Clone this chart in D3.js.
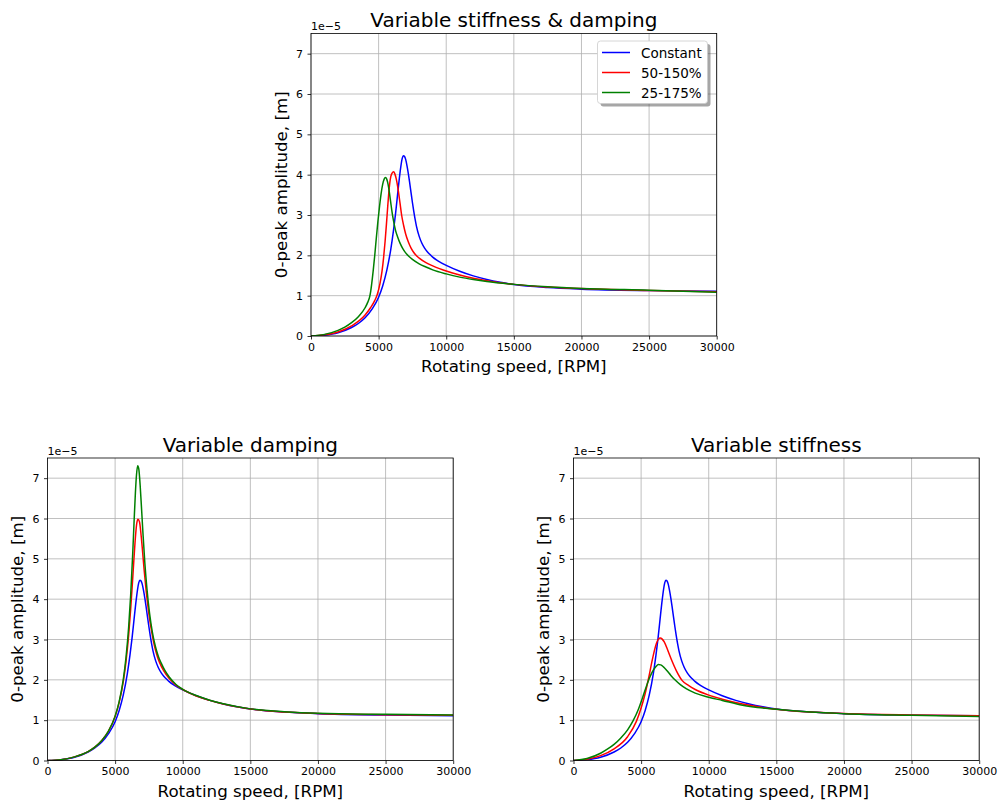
<!DOCTYPE html>
<html><head><meta charset="utf-8">
<script src="https://cdn.jsdelivr.net/npm/d3@7"></script>
<style>body{margin:0;background:#fff}svg{display:block}text{font-family:"DejaVu Sans",sans-serif;fill:#000}</style>
</head><body>
<svg id="chart" width="1001" height="803"></svg>
<script>
// ---- tick labels / categories ----
const xTicks = [0, 5000, 10000, 15000, 20000, 25000, 30000];
const yTicks = [0, 1, 2, 3, 4, 5, 6, 7];
const seriesNames = ["Constant", "50-150%", "25-175%"];
const seriesColors = ["#0000ff", "#ff0000", "#008000"];
const titles = ["Variable stiffness & damping", "Variable damping", "Variable stiffness"];
const xLabel = "Rotating speed, [RPM]";
const yLabel = "0-peak amplitude, [m]";
const offsetLabel = "1e\u22125";

// ---- data (amplitude in units of 1e-5 m) ----
// Constant (same in all three panels)
const rpmConst = [0,1000,2000,3000,3500,4000,4500,5000,5300,5600,5900,6100,6250,6400,6530,6650,6750,6830,6920,7000,7100,7200,7300,7400,7500,7600,7700,7800,8000,8200,8400,8600,8800,9000,9300,9600,10000,11000,12000,13000,14000,15000,17500,20000,25000,30000];
const ampConst = [0,0.02,0.08,0.21,0.31,0.45,0.66,0.96,1.24,1.62,2.15,2.62,3.03,3.5,3.9,4.22,4.41,4.47,4.45,4.38,4.22,4.02,3.79,3.55,3.31,3.09,2.89,2.72,2.47,2.3,2.18,2.09,2.02,1.955,1.88,1.82,1.75,1.605,1.49,1.4,1.33,1.275,1.2,1.16,1.125,1.11];

// Top panel: variable stiffness & damping
const rpmSD50 = [0,1000,2000,3000,4000,4400,4700,4900,5100,5250,5370,5480,5580,5660,5740,5820,5900,6000,6100,6200,6300,6400,6500,6600,6700,6850,7000,7200,7400,7600,7800,8000,8500,9000,9500,10000,11000,12000,13000,15000,17500,20000,25000,30000];
const ampSD50 = [0,0.03,0.1,0.25,0.52,0.7,0.87,1.03,1.3,1.6,1.95,2.35,2.78,3.15,3.5,3.78,3.95,4.04,4.07,4.02,3.9,3.72,3.5,3.25,3.0,2.74,2.53,2.33,2.18,2.07,1.99,1.93,1.82,1.74,1.67,1.61,1.51,1.43,1.37,1.28,1.215,1.175,1.13,1.10];
const rpmSD25 = [0,1000,2000,2500,3000,3500,4000,4200,4350,4420,4480,4600,4720,4830,4950,5070,5180,5300,5410,5510,5600,5700,5800,5900,6000,6100,6250,6400,6600,6800,7000,7250,7500,8000,8500,9000,10000,11000,12000,13000,15000,17500,20000,25000,30000];
const ampSD25 = [0,0.04,0.14,0.22,0.33,0.48,0.7,0.84,0.99,1.12,1.27,1.62,2.02,2.43,2.85,3.22,3.52,3.76,3.89,3.93,3.89,3.76,3.55,3.3,3.06,2.86,2.62,2.46,2.29,2.16,2.06,1.97,1.9,1.79,1.71,1.64,1.54,1.46,1.4,1.35,1.28,1.22,1.18,1.135,1.085];

// Bottom-left: variable damping
const rpmD50 = [0,1000,2000,3000,3500,4000,4500,5000,5300,5600,5800,6000,6150,6300,6400,6500,6600,6690,6800,6900,7000,7150,7300,7500,7700,7850,8000,8150,8300,8600,9000,9500,10000,11000,12000,13000,15000,17500,20000,25000,30000];
const ampD50 = [0,0.02,0.09,0.22,0.33,0.49,0.72,1.09,1.44,1.95,2.44,3.1,3.75,4.51,5.04,5.53,5.88,5.98,5.92,5.66,5.3,4.71,4.19,3.63,3.2,2.93,2.72,2.55,2.42,2.22,2.03,1.87,1.76,1.6,1.49,1.4,1.275,1.2,1.165,1.135,1.12];
const rpmD25 = [0,1000,2000,3000,3500,4000,4500,5000,5300,5600,5800,6000,6150,6300,6400,6500,6580,6670,6750,6850,6950,7050,7200,7350,7550,7750,7900,8050,8200,8400,8700,9000,9500,10000,11000,12000,13000,15000,17500,20000,25000,30000];
const ampD25 = [0,0.02,0.09,0.22,0.33,0.49,0.72,1.1,1.46,2.0,2.54,3.3,4.1,5.12,5.9,6.64,7.08,7.31,7.23,6.83,6.27,5.68,4.89,4.27,3.64,3.19,2.94,2.74,2.58,2.42,2.22,2.07,1.885,1.765,1.61,1.495,1.405,1.28,1.21,1.17,1.145,1.13];

// Bottom-right: variable stiffness
const rpmS50 = [0,1000,2000,3000,4000,4650,5000,5300,5540,5830,6000,6130,6280,6420,6560,6710,6950,7230,7600,8040,8500,9000,10000,11000,12500,15000,17500,20000,25000,30000];
const ampS50 = [0,0.03,0.12,0.29,0.59,0.97,1.3,1.66,2.02,2.5,2.75,2.9,3.01,3.04,3.01,2.94,2.75,2.51,2.23,1.98,1.86,1.76,1.62,1.52,1.4,1.27,1.2,1.165,1.13,1.11];
const rpmS25 = [0,1000,2000,2500,3000,3500,4000,4400,4800,5100,5400,5650,5900,6100,6270,6450,6650,6900,7200,7500,7900,8330,9000,10000,11000,12500,15000,17500,20000,25000,30000];
const ampS25 = [0,0.05,0.18,0.28,0.4,0.56,0.76,0.98,1.27,1.55,1.85,2.07,2.24,2.33,2.38,2.37,2.32,2.23,2.11,2.0,1.88,1.78,1.67,1.57,1.49,1.37,1.27,1.2,1.16,1.12,1.09];

const panels = [
  {title: titles[0], left: 311, top: 33.5, legend: true,
   series: [[rpmConst, ampConst], [rpmSD50, ampSD50], [rpmSD25, ampSD25]]},
  {title: titles[1], left: 47.5, top: 458, legend: false,
   series: [[rpmConst, ampConst], [rpmD50, ampD50], [rpmD25, ampD25]]},
  {title: titles[2], left: 573.5, top: 458, legend: false,
   series: [[rpmConst, ampConst], [rpmS50, ampS50], [rpmS25, ampS25]]}
];
const W = 405.7, H = 302.5;

const svg = d3.select("#chart");
svg.append("rect").attr("width", 1001).attr("height", 803).attr("fill", "#fff");

panels.forEach((p, pi) => {
  const x = d3.scaleLinear().domain([0, 30000]).range([0, W]);
  const y = d3.scaleLinear().domain([0, 7.5]).range([H, 0]);
  const g = svg.append("g").attr("transform", `translate(${p.left},${p.top})`);

  // grid
  g.append("g").selectAll("line").data(xTicks).join("line")
    .attr("x1", d => x(d)).attr("x2", d => x(d)).attr("y1", 0).attr("y2", H)
    .attr("stroke", "#b0b0b0").attr("stroke-width", 0.8);
  g.append("g").selectAll("line").data(yTicks).join("line")
    .attr("y1", d => y(d)).attr("y2", d => y(d)).attr("x1", 0).attr("x2", W)
    .attr("stroke", "#b0b0b0").attr("stroke-width", 0.8);

  // clip
  const cid = "clip" + pi;
  g.append("clipPath").attr("id", cid).append("rect").attr("width", W).attr("height", H);

  const line = d3.line().x(d => x(d[0])).y(d => y(d[1])).curve(d3.curveMonotoneX);
  const lg = g.append("g").attr("clip-path", `url(#${cid})`);
  p.series.forEach((s, si) => {
    const pts = s[0].map((r, i) => [r, s[1][i]]);
    lg.append("path").datum(pts).attr("d", line).attr("fill", "none")
      .attr("stroke", seriesColors[si]).attr("stroke-width", 1.5)
      .attr("stroke-linejoin", "round");
  });

  // axes via d3 axis
  const xAxis = d3.axisBottom(x).tickValues(xTicks).tickSize(3.5).tickPadding(3.5).tickFormat(d3.format("d"));
  const yAxis = d3.axisLeft(y).tickValues(yTicks).tickSize(3.5).tickPadding(4.5).tickFormat(d3.format("d"));
  const gx = g.append("g").attr("transform", `translate(0,${H})`).call(xAxis);
  const gy = g.append("g").call(yAxis);
  [gx, gy].forEach(a => {
    a.select(".domain").remove();
    a.selectAll(".tick line").attr("stroke", "#000").attr("stroke-width", 0.8);
    a.selectAll(".tick text").attr("font-family", "DejaVu Sans").attr("font-size", 11).attr("fill", "#000");
  });

  // spines
  g.append("rect").attr("width", W).attr("height", H).attr("fill", "none")
    .attr("stroke", "#000").attr("stroke-width", 0.8);

  // texts
  g.append("text").attr("x", W / 2).attr("y", -6.5).attr("text-anchor", "middle")
    .attr("font-size", 20).text(p.title);
  g.append("text").attr("x", 0).attr("y", -3.5).attr("font-size", 11).text(offsetLabel);
  g.append("text").attr("x", W / 2).attr("y", H + 36).attr("text-anchor", "middle")
    .attr("font-size", 16.7).text(xLabel);
  g.append("text").attr("transform", `translate(-24.5,${H / 2}) rotate(-90)`)
    .attr("text-anchor", "middle").attr("font-size", 16.7).text(yLabel);

  if (p.legend) {
    const lx = 597.5 - p.left, ly = 41 - p.top, lw = 110, lh = 62.5;
    const leg = g.append("g").attr("transform", `translate(${lx},${ly})`);
    leg.append("rect").attr("x", 3).attr("y", 3).attr("width", lw).attr("height", lh)
      .attr("rx", 3).attr("fill", "#4d4d4d").attr("opacity", 0.5);
    leg.append("rect").attr("width", lw).attr("height", lh).attr("rx", 3)
      .attr("fill", "#fff").attr("stroke", "#cccccc").attr("stroke-width", 0.8);
    seriesNames.forEach((n, i) => {
      const yy = 11.5 + i * 20;
      leg.append("line").attr("x1", 4.5).attr("x2", 32.5).attr("y1", yy).attr("y2", yy)
        .attr("stroke", seriesColors[i]).attr("stroke-width", 1.5);
      leg.append("text").attr("x", 43.5).attr("y", yy + 5).attr("font-size", 13.5).text(n);
    });
  }
});
</script>
</body></html>
